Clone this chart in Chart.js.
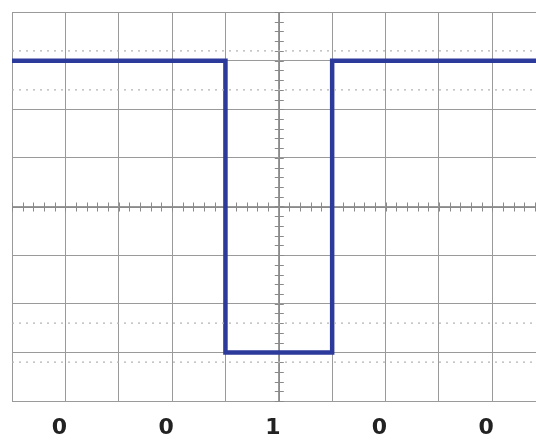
<!DOCTYPE html>
<html>
<head>
<meta charset="utf-8">
<script src="https://cdn.jsdelivr.net/npm/chart.js@4.4.0/dist/chart.umd.min.js"></script>
<style>
  html, body { margin: 0; padding: 0; background: #fff; overflow: hidden; }
  #wrap { width: 536px; height: 440px; position: relative; }
</style>
</head>
<body>
<div id="wrap"><canvas id="scope"></canvas></div>
<script>
// bit pattern shown under the trace
var bits = [0, 0, 1, 0, 0];
// trace levels (in grid divisions) for a 0 bit and a 1 bit
var levelForZero = 3;
var levelForOne = -3;
// each bit takes two grid divisions
var divisionsPerBit = 2;
// dotted measurement lines (in divisions)
var markerLevels = [3.2, 2.4, -2.4, -3.2];
// visible grid: x 0 .. 9.82 divisions (right edge cut off), y -4 .. 4
var xMin = 0, xMax = 9.82;
var yMin = -4, yMax = 4;
var xGridTicks = [0, 1, 2, 3, 4, 5, 6, 7, 8, 9];
var bitLabelTicks = [1, 3, 5, 7, 9];

// build trace points from the bits
var trace = [];
for (var i = 0; i < bits.length; i++) {
    trace.push({ x: i * divisionsPerBit, y: bits[i] ? levelForOne : levelForZero });
}
trace.push({ x: bits.length * divisionsPerBit, y: trace[trace.length - 1].y });

var datasets = [];
markerLevels.forEach(function (lv) {
    datasets.push({
        data: [{ x: xMin, y: lv }, { x: 10, y: lv }],
        borderColor: '#b4b4b4',
        borderWidth: 1.2,
        borderDash: [2, 5],
        pointRadius: 0,
        fill: false
    });
});
datasets.push({
    data: trace,
    stepped: true,
    borderColor: '#2c3a9c',
    borderWidth: 4.5,
    borderCapStyle: 'round',
    borderJoinStyle: 'miter',
    pointRadius: 0,
    fill: false
});

// minor tick marks on the two centre axes
var centerTicks = {
    id: 'centerTicks',
    beforeDatasetsDraw: function (chart) {
        var ctx = chart.ctx, x = chart.scales.x, y = chart.scales.y;
        var cx = x.getPixelForValue(5), cy = y.getPixelForValue(0);
        ctx.save();
        ctx.strokeStyle = '#8a8a8a';
        ctx.lineWidth = 1;
        ctx.beginPath();
        ctx.moveTo(x.left, Math.round(cy) + 0.5);
        ctx.lineTo(x.right, Math.round(cy) + 0.5);
        ctx.moveTo(Math.round(cx) + 0.5, y.top);
        ctx.lineTo(Math.round(cx) + 0.5, y.bottom);
        for (var v = yMin; v <= yMax + 0.001; v += 0.2) {
            var py = Math.round(y.getPixelForValue(v)) + 0.5;
            ctx.moveTo(cx - 4, py);
            ctx.lineTo(cx + 5, py);
        }
        for (var u = xMin; u <= xMax; u += 0.2) {
            var px = Math.round(x.getPixelForValue(u)) + 0.5;
            ctx.moveTo(px, cy - 4);
            ctx.lineTo(px, cy + 5);
        }
        ctx.stroke();
        ctx.restore();
    }
};

new Chart(document.getElementById('scope'), {
    type: 'line',
    data: { datasets: datasets },
    plugins: [centerTicks],
    options: {
        responsive: true,
        maintainAspectRatio: false,
        animation: false,
        layout: { padding: { left: 12, top: 12, right: 0, bottom: 0 } },
        plugins: { legend: { display: false }, tooltip: { enabled: false } },
        scales: {
            x: {
                type: 'linear',
                min: xMin,
                max: xMax,
                afterBuildTicks: function (s) { s.ticks = xGridTicks.map(function (v) { return { value: v }; }); },
                grid: { color: '#9a9a9a', lineWidth: 1, drawTicks: false },
                border: { display: false },
                ticks: { display: false }
            },
            x2: {
                type: 'linear',
                position: 'bottom',
                min: xMin,
                max: xMax,
                afterBuildTicks: function (s) { s.ticks = bitLabelTicks.map(function (v) { return { value: v }; }); },
                afterFit: function (s) { s.height = 39; },
                grid: { display: false, drawTicks: false },
                border: { display: false },
                ticks: {
                    padding: 14,
                    labelOffset: -6,
                    color: '#222',
                    font: { family: 'DejaVu Sans', size: 22, weight: 'bold' },
                    callback: function (v, idx) { return String(bits[idx]); }
                }
            },
            y: {
                type: 'linear',
                min: yMin,
                max: yMax,
                grid: { color: '#9a9a9a', lineWidth: 1, drawTicks: false },
                border: { display: false },
                ticks: { display: false, stepSize: 1 }
            }
        }
    }
});
</script>
</body>
</html>
